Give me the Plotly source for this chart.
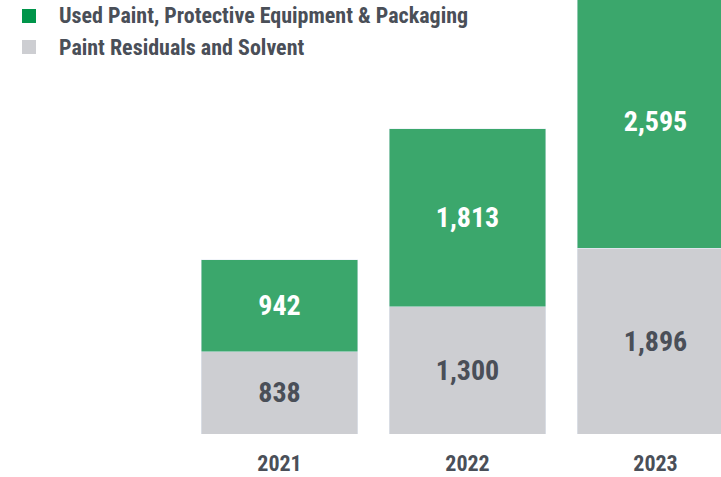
import plotly.graph_objects as go

years = ["2021", "2022", "2023"]
residuals = [838, 1300, 1896]
used_paint = [942, 1813, 2595]
series_names = ["Used Paint, Protective Equipment & Packaging", "Paint Residuals and Solvent"]

GREEN = "#3ba76c"
GREEN_LEG = "#00954a"
GREY = "#cdced2"
TXT = "#4a4f58"
FONT = "Liberation Sans Narrow, Roboto Condensed, Arial Narrow, Liberation Sans, sans-serif"

W, H, B = 721, 477, 43
PH = H - B  # plot-area height in px

xs = [0, 1, 2]
fig = go.Figure()
fig.add_trace(go.Bar(x=xs, y=residuals, marker_color=GREY, width=0.835,
                     name=series_names[1],
                     text=[f"{v:,}" for v in residuals], textposition="inside",
                     insidetextanchor="middle",
                     textfont=dict(color=TXT, size=28, family=FONT, weight="bold"),
                     showlegend=False, hoverinfo="skip"))
fig.add_trace(go.Bar(x=xs, y=used_paint, marker_color=GREEN, width=0.835,
                     name=series_names[0],
                     text=[f"{v:,}" for v in used_paint], textposition="inside",
                     insidetextanchor="middle",
                     textfont=dict(color="white", size=28, family=FONT, weight="bold"),
                     showlegend=False, hoverinfo="skip"))

# legend drawn as squares + text (paper coordinates from pixel layout)
legend_items = [(series_names[0], GREEN_LEG, 16), (series_names[1], GREY, 47)]
for name, col, cy in legend_items:
    fig.add_shape(type="rect", xref="paper", yref="paper",
                  x0=22 / W, x1=36 / W, y0=(PH - cy - 7) / PH, y1=(PH - cy + 7) / PH,
                  fillcolor=col, line=dict(width=0))
    fig.add_annotation(xref="paper", yref="paper", x=57 / W, y=(PH - cy) / PH,
                       xanchor="left", yanchor="middle", showarrow=False, text=name,
                       font=dict(family=FONT, size=22, color=TXT, weight="bold"))

fig.update_layout(
    width=W, height=H, barmode="stack",
    margin=dict(l=0, r=0, t=0, b=B),
    plot_bgcolor="white", paper_bgcolor="white",
    showlegend=False,
    xaxis=dict(range=[-1.4867, 2.3484], tickvals=xs, ticktext=years,
               showgrid=False, zeroline=False, showline=False, ticks="",
               tickfont=dict(family=FONT, size=22, color=TXT, weight="bold"),
               ticklabelstandoff=14),
    yaxis=dict(range=[0, 4429], visible=False, showgrid=False),
    bargap=0.165,
)
fig.write_html("out.html", config={"displayModeBar": False},
               post_script="document.body.style.margin='0px';")
